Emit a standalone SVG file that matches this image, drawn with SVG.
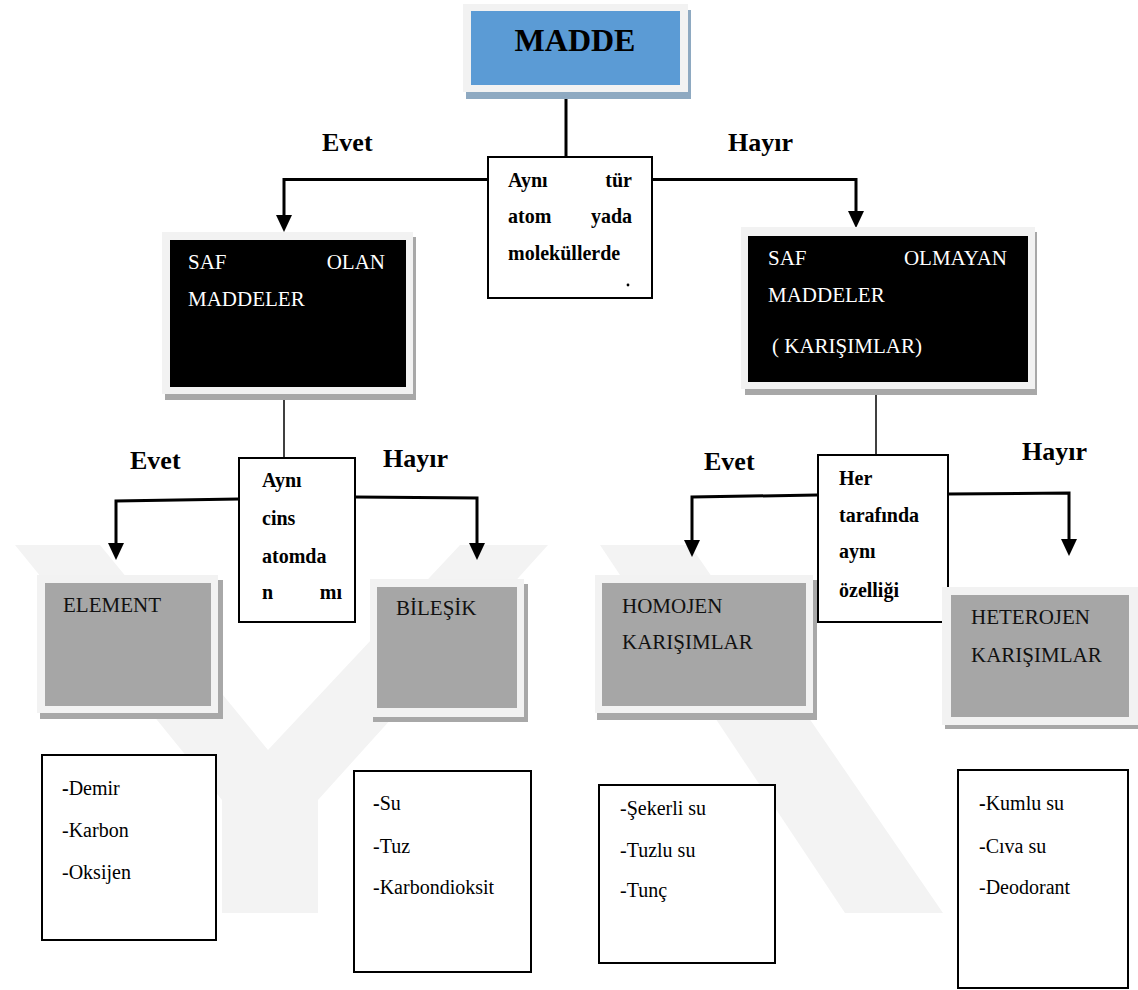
<svg xmlns="http://www.w3.org/2000/svg" width="1138" height="990" viewBox="0 0 1138 990">
<style>
  .wm{fill:#f3f3f3}
  .frame{fill:#f2f2f2}
  .gshadow{fill:#a8a8a8}
  .ginner{fill:#a6a6a6}
  .black{fill:#000}
  .qbox{fill:#fff;stroke:#000;stroke-width:2}
  .lbox{fill:#fff;stroke:#000;stroke-width:2}
  .conn{fill:none;stroke:#000;stroke-width:3}
  .stem{fill:none;stroke:#000;stroke-width:1.5}
  .lbl{font-family:"Liberation Serif","Times New Roman",serif;font-weight:bold;font-size:26px;fill:#000}
  .q{font-family:"Liberation Serif","Times New Roman",serif;font-weight:bold;font-size:20px;fill:#000}
  .w{font-family:"Liberation Serif","Times New Roman",serif;font-size:21px;fill:#fff}
  .t{font-family:"Liberation Serif","Times New Roman",serif;font-size:21px;fill:#111}
  .li{font-family:"Liberation Serif","Times New Roman",serif;font-size:20px;fill:#000}
</style>
<defs>
  <marker id="arr" viewBox="0 0 17 16" refX="7" refY="8" markerWidth="17" markerHeight="16" markerUnits="userSpaceOnUse" orient="auto">
    <path d="M0,0 L17,8 L0,16 Z" fill="#000"/>
  </marker>
</defs>
<rect width="1138" height="990" fill="#fff"/>

<g id="watermark">
  <polygon class="wm" points="15,545 100,545 268,750 460,545 548,545 318,800 318,913 222,913 222,800"/>
  <polygon class="wm" points="600,545 690,545 943,913 845,913"/>
</g>

<g id="connectors">
  <line class="conn" x1="566" y1="99" x2="566" y2="157"/>
  <path class="conn" d="M487,179.5 L284,179.5 L284,222" marker-end="url(#arr)"/>
  <path class="conn" d="M652,179.5 L856,179.5 L856,218" marker-end="url(#arr)"/>
  <line class="stem" x1="284" y1="400" x2="284" y2="458"/>
  <line class="stem" x1="876" y1="395" x2="876" y2="455"/>
  <path class="conn" d="M239,499 L116,501 L116,550" marker-end="url(#arr)"/>
  <path class="conn" d="M355,497 L477,498 L477,550" marker-end="url(#arr)"/>
  <path class="conn" d="M817,495 L692,497 L692,547" marker-end="url(#arr)"/>
  <path class="conn" d="M948,494 L1069,493 L1069,546" marker-end="url(#arr)"/>
</g>

<g id="labels">
  <text class="lbl" x="322" y="151">Evet</text>
  <text class="lbl" x="728" y="151">Hayır</text>
  <text class="lbl" x="130" y="469">Evet</text>
  <text class="lbl" x="383" y="467">Hayır</text>
  <text class="lbl" x="704" y="470">Evet</text>
  <text class="lbl" x="1022" y="460">Hayır</text>
</g>

<g id="madde">
  <rect x="466" y="10" width="225" height="89" fill="#8ea9c1"/>
  <rect class="frame" x="463" y="4" width="225" height="88"/>
  <rect x="471" y="11" width="209" height="74" fill="#5b9bd5"/>
  <text x="575" y="51" text-anchor="middle" font-family="Liberation Serif, Times New Roman, serif" font-weight="bold" font-size="32" fill="#000">MADDE</text>
</g>

<g id="q1">
  <rect class="qbox" x="488" y="157" width="164" height="141"/>
  <text class="q" x="508" y="187">Aynı</text>
  <text class="q" x="632" y="187" text-anchor="end">tür</text>
  <text class="q" x="508" y="223">atom</text>
  <text class="q" x="632" y="223" text-anchor="end">yada</text>
  <text class="q" x="508" y="260">moleküllerde</text>
  <circle cx="628" cy="285" r="1.4" fill="#000"/>
</g>

<g id="saf-olan">
  <rect class="gshadow" x="165" y="237" width="251" height="163"/>
  <rect class="frame" x="162" y="232" width="251" height="162"/>
  <rect class="black" x="170" y="240" width="236" height="147"/>
  <text class="w" x="188" y="269">SAF</text>
  <text class="w" x="385" y="269" text-anchor="end">OLAN</text>
  <text class="w" x="188" y="306">MADDELER</text>
</g>

<g id="saf-olmayan">
  <rect class="gshadow" x="745" y="232" width="292" height="163"/>
  <rect class="frame" x="741" y="227" width="294" height="162"/>
  <rect class="black" x="748" y="236" width="280" height="146"/>
  <text class="w" x="768" y="265">SAF</text>
  <text class="w" x="1007" y="265" text-anchor="end">OLMAYAN</text>
  <text class="w" x="768" y="302">MADDELER</text>
  <text class="w" x="772" y="353">( KARIŞIMLAR)</text>
</g>

<g id="q2">
  <rect class="qbox" x="239" y="458" width="116" height="164"/>
  <text class="q" x="262" y="487">Aynı</text>
  <text class="q" x="262" y="525">cins</text>
  <text class="q" x="262" y="563">atomda</text>
  <text class="q" x="262" y="599">n</text>
  <text class="q" x="342" y="599" text-anchor="end">mı</text>
</g>

<g id="q3">
  <rect class="qbox" x="818" y="455" width="130" height="167"/>
  <text class="q" x="839" y="485">Her</text>
  <text class="q" x="839" y="522">tarafında</text>
  <text class="q" x="839" y="558">aynı</text>
  <text class="q" x="839" y="597">özelliği</text>
</g>

<g id="element">
  <rect class="gshadow" x="40" y="580" width="183" height="139"/>
  <rect class="frame" x="37" y="575" width="181" height="138"/>
  <rect class="ginner" x="45" y="583" width="166" height="123"/>
  <text class="t" x="63" y="612">ELEMENT</text>
</g>

<g id="bilesik">
  <rect class="gshadow" x="373" y="584" width="155" height="138"/>
  <rect class="frame" x="370" y="579" width="154" height="138"/>
  <rect class="ginner" x="377" y="587" width="140" height="121"/>
  <text class="t" x="396" y="615">BİLEŞİK</text>
</g>

<g id="homojen">
  <rect class="gshadow" x="597" y="580" width="220" height="140"/>
  <rect class="frame" x="595" y="575" width="218" height="138"/>
  <rect class="ginner" x="602" y="583" width="204" height="123"/>
  <text class="t" x="622" y="613">HOMOJEN</text>
  <text class="t" x="622" y="649">KARIŞIMLAR</text>
</g>

<g id="heterojen">
  <rect class="gshadow" x="945" y="592" width="193" height="137"/>
  <rect class="frame" x="942" y="587" width="196" height="138"/>
  <rect class="ginner" x="951" y="595" width="178" height="122"/>
  <text class="t" x="971" y="624">HETEROJEN</text>
  <text class="t" x="971" y="662">KARIŞIMLAR</text>
</g>

<g id="list-element">
  <rect class="lbox" x="42" y="755" width="174" height="185"/>
  <text class="li" x="62" y="795"><tspan font-weight="bold">-</tspan>Demir</text>
  <text class="li" x="62" y="837">-Karbon</text>
  <text class="li" x="62" y="879">-Oksijen</text>
</g>

<g id="list-bilesik">
  <rect class="lbox" x="354" y="771" width="177" height="201"/>
  <text class="li" x="373" y="810"><tspan font-weight="bold">-</tspan>Su</text>
  <text class="li" x="373" y="853">-Tuz</text>
  <text class="li" x="373" y="894">-Karbondioksit</text>
</g>

<g id="list-homojen">
  <rect class="lbox" x="599" y="785" width="176" height="178"/>
  <text class="li" x="620" y="815">-Şekerli su</text>
  <text class="li" x="620" y="857">-Tuzlu su</text>
  <text class="li" x="620" y="897">-Tunç</text>
</g>

<g id="list-heterojen">
  <rect class="lbox" x="958" y="770" width="170" height="218"/>
  <text class="li" x="979" y="810"><tspan font-weight="bold">-</tspan>Kumlu su</text>
  <text class="li" x="979" y="853">-Cıva su</text>
  <text class="li" x="979" y="894">-Deodorant</text>
</g>
</svg>
